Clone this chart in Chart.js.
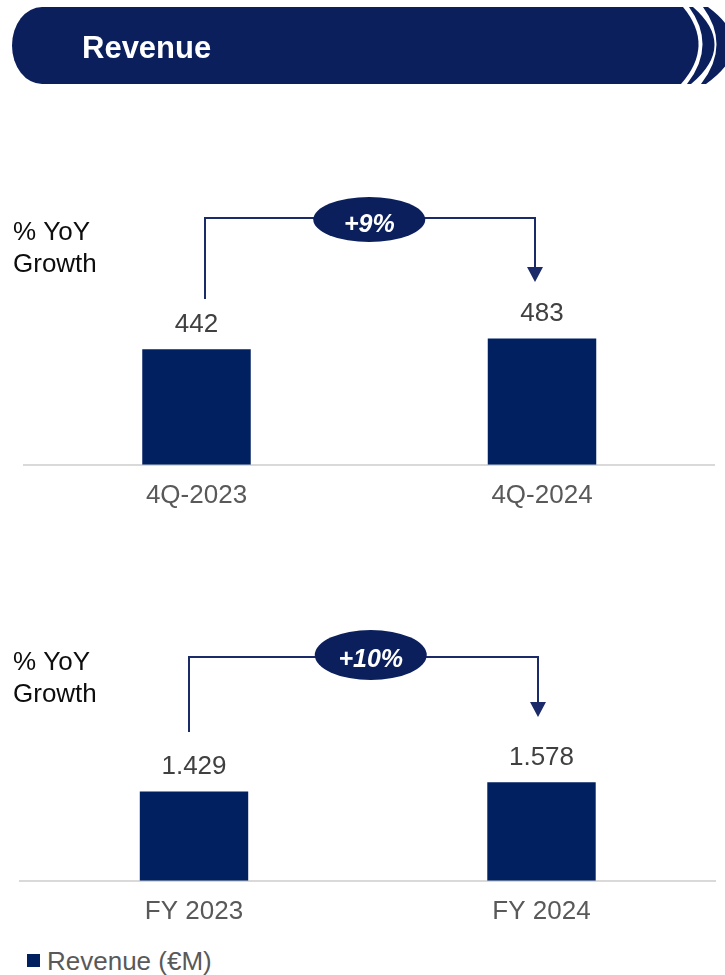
<!DOCTYPE html>
<html>
<head>
<meta charset="utf-8">
<title>Revenue</title>
<script src="https://cdn.jsdelivr.net/npm/chart.js@4.4.1/dist/chart.umd.min.js"></script>
<style>
  html, body { margin: 0; padding: 0; background: #fff; }
  body { width: 725px; height: 975px; position: relative; overflow: hidden; font-family: "Liberation Sans", Arial, sans-serif; }
  canvas { position: absolute; left: 0; display: block; }
  #banner { top: 0; }
  #chartQ { top: 100px; }
  #chartFY { top: 540px; }
  .legend-box { position: absolute; left: 27px; top: 953.5px; width: 13px; height: 13px; background: #002060; }
  .legend-text { position: absolute; left: 47px; top: 948px; font-size: 26px; line-height: 26px; color: #595959; white-space: nowrap; }
</style>
</head>
<body>
<canvas id="banner" width="725" height="95"></canvas>
<canvas id="chartQ" width="725" height="426"></canvas>
<canvas id="chartFY" width="725" height="402"></canvas>
<div class="legend-box"></div>
<div class="legend-text">Revenue (€M)</div>

<script>
  // --- données ---
  const quarterLabels = ['4Q-2023', '4Q-2024'];
  const quarterRevenue = [442, 483];
  const quarterGrowth = '+9%';

  const yearLabels = ['FY 2023', 'FY 2024'];
  const yearRevenue = [1429, 1578];
  const yearGrowth = '+10%';

  const seriesName = 'Revenue (€M)';

  // --- styles ---
  const FONT = '"Liberation Sans", Arial, sans-serif';
  const NAVY = '#0A1F5C';
  const BAR = '#002060';
  const LINE = '#1B2A68';

  // séparateur de milliers à l'européenne : 1429 -> "1.429"
  function fmt(v) {
    return String(v).replace(/\B(?=(\d{3})+(?!\d))/g, '.');
  }

  function drawBanner() {
    const ctx = document.getElementById('banner').getContext('2d');
    const top = 7, bot = 84, mid = (top + bot) / 2;

    ctx.fillStyle = NAVY;
    ctx.beginPath();
    ctx.moveTo(683, top);
    ctx.quadraticCurveTo(683 + 32, mid, 681, bot);
    ctx.lineTo(42, bot);
    ctx.ellipse(42, mid, 30, (bot - top) / 2, 0, Math.PI / 2, Math.PI * 1.5);
    ctx.closePath();
    ctx.fill();

    // croissants à droite
    function crescent(xi, bi, xo, bo) {
      ctx.beginPath();
      ctx.moveTo(xi, top);
      ctx.quadraticCurveTo(xi + 2 * bi, mid, xi - 2, bot);
      ctx.lineTo(xo - 2, bot);
      ctx.quadraticCurveTo(xo + 2 * bo, mid, xo, top);
      ctx.closePath();
      ctx.fill();
    }
    crescent(689, 14, 693, 22);
    crescent(703, 14, 708, 26);

    ctx.fillStyle = '#FFFFFF';
    ctx.font = 'bold 31px ' + FONT;
    ctx.textBaseline = 'alphabetic';
    ctx.fillText('Revenue', 82, 58);
  }

  const valueLabels = {
    id: 'valueLabels',
    afterDatasetsDraw(chart) {
      const ctx = chart.ctx;
      const data = chart.data.datasets[0].data;
      ctx.save();
      ctx.font = '26px ' + FONT;
      ctx.fillStyle = '#404040';
      ctx.textAlign = 'center';
      ctx.textBaseline = 'alphabetic';
      chart.getDatasetMeta(0).data.forEach((bar, i) => {
        ctx.fillText(fmt(data[i]), bar.x, bar.y - 17.5);
      });
      ctx.restore();
    }
  };

  const growthBracket = {
    id: 'growthBracket',
    afterDatasetsDraw(chart, args, o) {
      const ctx = chart.ctx;
      const bars = chart.getDatasetMeta(0).data;
      const x0 = bars[0].x + o.dxLeft;
      const x1 = bars[1].x + o.dxRight;
      const cx = (bars[0].x + bars[1].x) / 2 + o.dxEllipse;

      ctx.save();
      ctx.strokeStyle = LINE;
      ctx.lineWidth = 2;
      ctx.beginPath();
      ctx.moveTo(x0, o.startY);
      ctx.lineTo(x0, o.lineY);
      ctx.lineTo(x1, o.lineY);
      ctx.lineTo(x1, o.tipY - 14);
      ctx.stroke();

      ctx.fillStyle = LINE;
      ctx.beginPath();
      ctx.moveTo(x1 - 8, o.tipY - 15);
      ctx.lineTo(x1 + 8, o.tipY - 15);
      ctx.lineTo(x1, o.tipY);
      ctx.closePath();
      ctx.fill();

      ctx.fillStyle = NAVY;
      ctx.beginPath();
      ctx.ellipse(cx, o.cy, o.rx, o.ry, 0, 0, Math.PI * 2);
      ctx.fill();

      ctx.fillStyle = '#FFFFFF';
      ctx.font = 'italic bold 25px ' + FONT;
      ctx.textAlign = 'center';
      ctx.textBaseline = 'alphabetic';
      ctx.fillText(o.text, cx, o.cy + 12);

      // titre latéral
      ctx.fillStyle = '#0D0D0D';
      ctx.font = '26px ' + FONT;
      ctx.textAlign = 'left';
      ctx.fillText('% YoY', 13, o.titleY);
      ctx.fillText('Growth', 13, o.titleY + 32);
      ctx.restore();
    }
  };

  function revenueChart(id, labels, values, yMax, layout, bracket) {
    return new Chart(document.getElementById(id), {
      type: 'bar',
      data: {
        labels: labels,
        datasets: [{
          label: seriesName,
          data: values,
          backgroundColor: BAR,
          borderWidth: 0,
          barPercentage: 1,
          categoryPercentage: layout.barPct,
        }]
      },
      options: {
        responsive: false,
        animation: false,
        layout: { padding: { left: layout.left, right: layout.right, top: 0, bottom: 0 } },
        plugins: {
          legend: { display: false },
          tooltip: { enabled: false },
          growthBracket: bracket,
        },
        scales: {
          x: {
            grid: { display: false, drawTicks: false },
            border: { display: true, color: '#D9D9D9', width: 2 },
            ticks: {
              color: '#595959',
              font: { family: FONT, size: 26 },
              padding: 15,
              maxRotation: 0,
            }
          },
          y: { display: false, min: 0, max: yMax }
        }
      },
      plugins: [valueLabels, growthBracket]
    });
  }

  drawBanner();

  revenueChart('chartQ', quarterLabels, quarterRevenue, 1394,
    { left: 23.75, right: 10.25, barPct: 0.314 },
    { text: quarterGrowth, dxLeft: 8.5, dxRight: -7, dxEllipse: 0,
      startY: 199, lineY: 118, tipY: 182, cy: 119.5, rx: 56, ry: 22.5, titleY: 140 });

  revenueChart('chartFY', yearLabels, yearRevenue, 5460,
    { left: 20.25, right: 9.75, barPct: 0.312 },
    { text: yearGrowth, dxLeft: -5, dxRight: -3.5, dxEllipse: 3,
      startY: 192, lineY: 117, tipY: 177, cy: 115, rx: 56, ry: 25, titleY: 130 });
</script>
</body>
</html>
